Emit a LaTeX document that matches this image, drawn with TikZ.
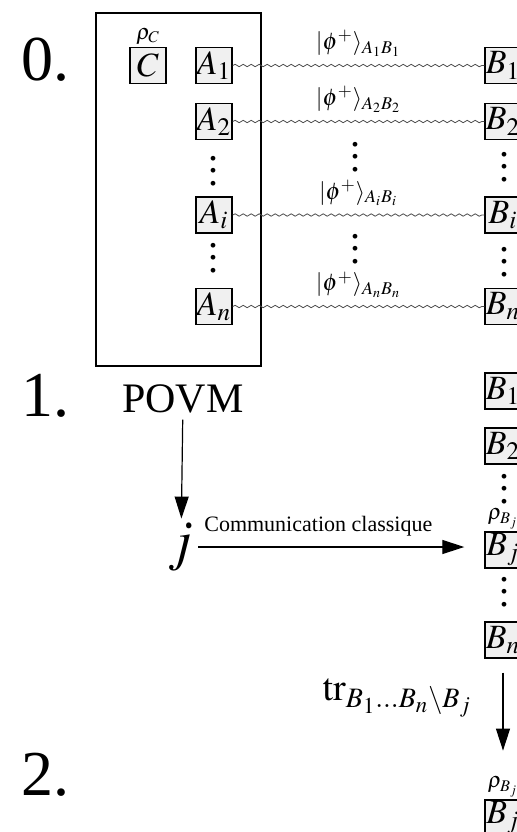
\documentclass[tikz,border=0pt]{standalone}
\usepackage{mathptmx}
\usepackage[no-math]{fontspec}
\setmainfont{Liberation Serif}
\usetikzlibrary{positioning,arrows.meta,decorations.pathmorphing}
\tikzset{
  qbit/.style={draw, line width=0.7pt, fill=gray!12, minimum size=18pt, inner sep=0pt,
    font=\fontsize{17}{17}\selectfont},
  epr/.style={draw=gray!60!black, line width=0.4pt, decorate,
    decoration={snake, amplitude=0.6pt, segment length=4pt}},
  ket/.style={above=1pt, font=\fontsize{12}{12}\selectfont},
  steplabel/.style={anchor=base west, font=\fontsize{32}{32}\selectfont},
  flow/.style={-{Triangle[length=11pt,width=7pt]}, line width=0.6pt},
  dens/.style={font=\fontsize{11}{11}\selectfont, inner sep=1pt},
  dts/.style={inner sep=0pt, font=\fontsize{20}{20}\selectfont}
}
\newcommand{\vdts}{\vbox{\baselineskip6.4pt\lineskiplimit0pt\hbox{.}\hbox{.}\hbox{.}}}

\begin{document}
\begin{tikzpicture}[x=0.5pt,y=-0.5pt]
  \clip (0,0) rectangle (517,832);

  % step 0: shared pairs
  \node[steplabel] (s0) at (14,80) {0.};
  \draw[line width=1pt] (96,13) rectangle (261,366);
  \node[qbit, label={[dens]above:$\rho_C$}] (C) at (148,65.5) {$C$};

  \foreach \k/\y in {1/65.5, 2/121.5, i/215, n/306.5} {
    \node[qbit] (A\k) at (214,\y) {$A_\k$};
    \node[qbit] (B\k) at (503,\y) {$B_\k$};
    \draw[epr] (A\k.east) -- (B\k.west);
    \path (A\k.east) -- node[ket] {$|\phi^+\rangle_{A_\k B_\k}$} (B\k.west);
  }
  \node[dts] (adots1) at (213,171) {\vdts};
  \node[dts] (adots2) at (213,258) {\vdts};
  \node[dts] (edots1) at (355,157) {\vdts};
  \node[dts] (edots2) at (355,249) {\vdts};
  \node[dts] (bdots1) at (504,167) {\vdts};
  \node[dts] (bdots2) at (504,262) {\vdts};

  % step 1: measurement and classical message
  \node[steplabel] (s1) at (14,416) {1.};
  \node[anchor=base, font=\fontsize{21}{21}\selectfont] (povm) at (183,412) {POVM};
  \node[font=\fontsize{28}{28}\selectfont, inner sep=2pt] (j) at (181,547) {$j$};
  \draw[flow] (povm) -- (j);

  \node[qbit] (B1s) at (503,391) {$B_1$};
  \node[qbit] (B2s) at (503,446) {$B_2$};
  \node[dts] (bdots3) at (504,489) {\vdts};
  \node[qbit, label={[dens]above:$\rho_{B_j}$}] (Bjs) at (503,550) {$B_j$};
  \node[dts] (bdots4) at (504,592) {\vdts};
  \node[qbit] (Bns) at (503,640) {$B_n$};
  \draw[flow, shorten >=10pt] (j.east) -- node[pos=0.42, above=2pt, font=\fontsize{11}{11}\selectfont] {Communication classique} (j.east -| Bjs.west);

  % step 2: partial trace
  \node[steplabel] (s2) at (14,795) {2.};
  \node[qbit] (Bjf) at (503,818) {$B_j$};
  \node[dens, above=0pt of Bjf] (rhof) {$\rho_{B_j}$};
  \draw[flow, shorten <=7pt, shorten >=12pt] (Bns.south) -- (rhof.north);
  \node[anchor=base east, font=\fontsize{19}{19}\selectfont] (tr) at (479,700) {$\mathrm{tr}_{B_1\ldots B_n\backslash B_j}$};
\end{tikzpicture}
\end{document}
